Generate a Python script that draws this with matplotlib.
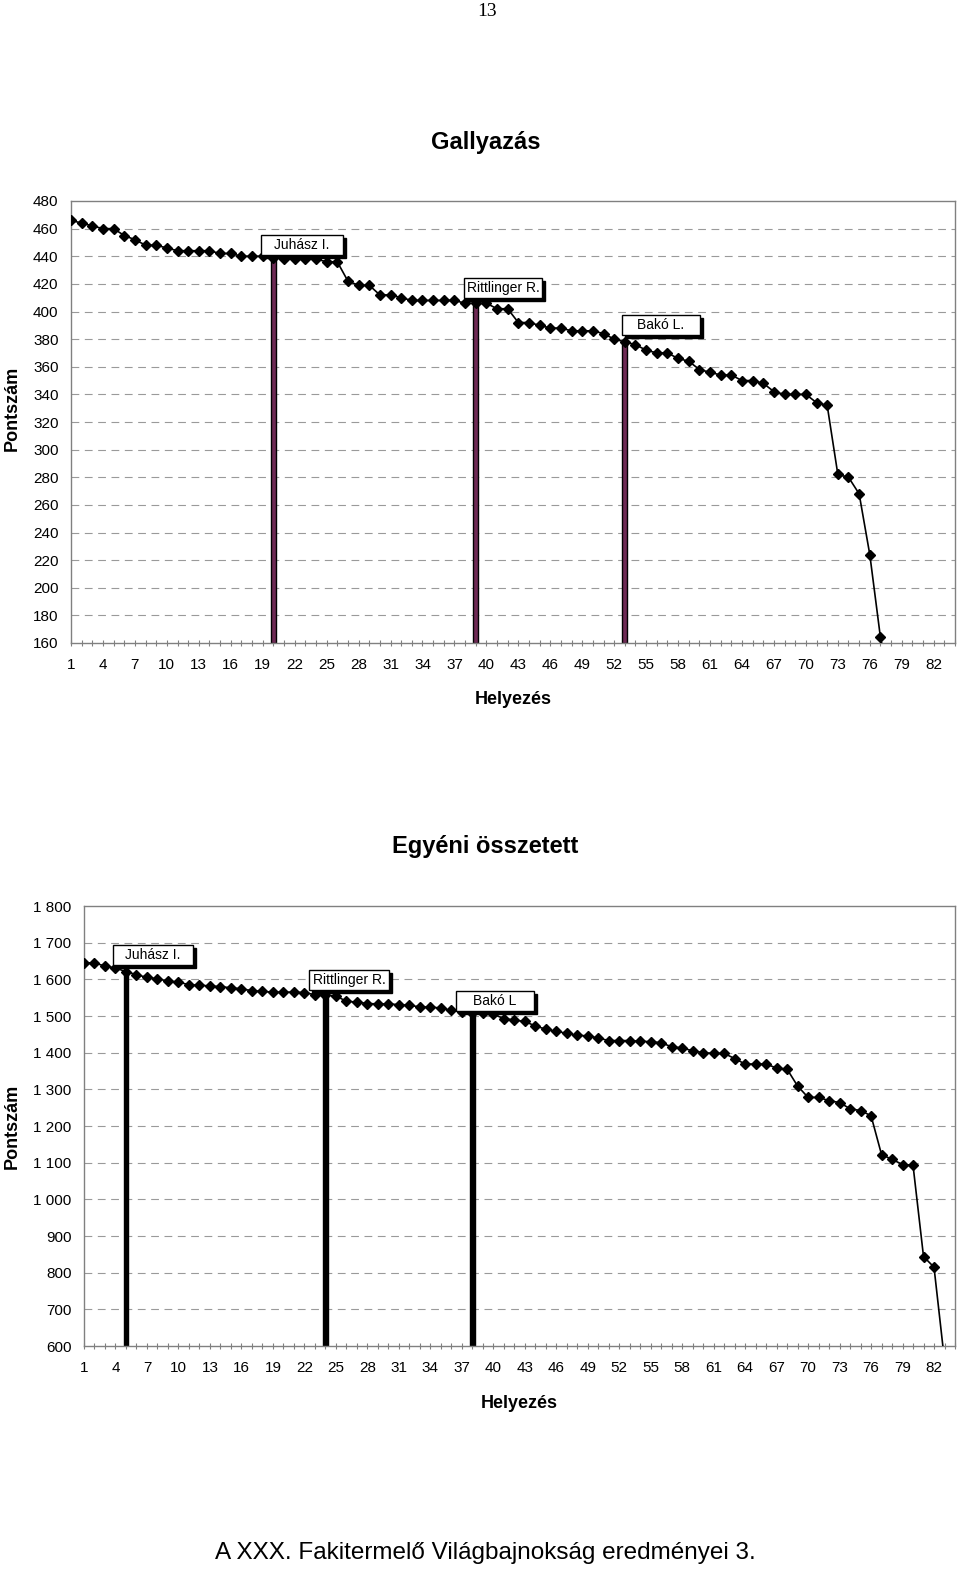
import matplotlib
matplotlib.use("Agg")
import matplotlib.pyplot as plt
from matplotlib.patches import Rectangle

plt.rcParams['font.family'] = ['Liberation Sans', 'DejaVu Sans']

# ---------------- data ----------------
n_categories = 84
categories = list(range(1, n_categories + 1))

gally_values = [466, 464, 462, 460, 460, 455, 452, 448, 448, 446,
                444, 444, 444, 444, 442, 442, 440, 440, 440, 439,
                438, 438, 438, 438, 436, 436, 422, 419, 419, 412,
                412, 410, 408, 408, 408, 408, 408, 406, 406, 406,
                402, 402, 392, 392, 390, 388, 388, 386, 386, 386,
                384, 380, 378, 376, 372, 370, 370, 366, 364, 358,
                356, 354, 354, 350, 350, 348, 342, 340, 340, 340,
                334, 332, 282, 280, 268, 224, 164, 130]
gally_highlight_pos = [20, 39, 53]
gally_highlight_names = ["Juhász I.", "Rittlinger R.", "Bakó L."]
gally_yticks = list(range(160, 481, 20))

ossz_values = [1645, 1645, 1636, 1631, 1621, 1613, 1605, 1602, 1595, 1593,
               1585, 1584, 1582, 1580, 1577, 1574, 1569, 1567, 1565, 1565,
               1565, 1564, 1558, 1557, 1555, 1540, 1538, 1534, 1533, 1533,
               1531, 1529, 1525, 1524, 1522, 1515, 1511, 1509, 1507, 1505,
               1493, 1489, 1485, 1473, 1464, 1458, 1453, 1447, 1446, 1440,
               1433, 1433, 1433, 1431, 1430, 1427, 1416, 1413, 1405, 1400,
               1398, 1398, 1384, 1369, 1369, 1369, 1358, 1355, 1309, 1278,
               1278, 1269, 1264, 1247, 1242, 1228, 1122, 1109, 1095, 1093,
               844, 815, 560]
ossz_highlight_pos = [5, 24, 38]
ossz_highlight_names = ["Juhász I.", "Rittlinger R.", "Bakó L"]
ossz_yticks = list(range(600, 1801, 100))

xtick_labels = [str(c) if (c - 1) % 3 == 0 else "" for c in categories]

# ---------------- figure ----------------
W, H = 960, 1569
fig = plt.figure(figsize=(W / 100, H / 100), dpi=100)
fig.patch.set_facecolor("white")


def px_rect(left, top, right, bottom):
    return [left / W, 1 - bottom / H, (right - left) / W, (bottom - top) / H]


def fx(x):
    return x / W


def fy(y):
    return 1 - y / H


def style_axes(ax, yticks, ylabels):
    ax.set_xlim(1, n_categories)
    ax.set_ylim(yticks[0], yticks[-1])
    for s in ax.spines.values():
        s.set_color("#808080")
        s.set_linewidth(1.0)
    ax.set_yticks(yticks)
    ax.set_yticklabels(ylabels, fontsize=11)
    ax.tick_params(axis="y", length=0, pad=9)
    ax.set_xticks(categories)
    ax.set_xticklabels(xtick_labels, fontsize=11)
    ax.tick_params(axis="x", direction="inout", length=5, width=0.8,
                   color="#808080", pad=8)
    for yv in yticks[1:-1]:
        ax.axhline(yv, color="#9a9a9a", lw=0.8, ls=(0, (7, 5)), zorder=0)


def add_box(text, cx, cy, w, h=20):
    sh = Rectangle((fx(cx - w / 2 + 3), fy(cy + h / 2 + 3)), w / W, h / H,
                   transform=fig.transFigure, facecolor="black",
                   edgecolor="black", zorder=5)
    fig.add_artist(sh)
    bx = Rectangle((fx(cx - w / 2), fy(cy + h / 2)), w / W, h / H,
                   transform=fig.transFigure, facecolor="white",
                   edgecolor="black", lw=1.0, zorder=6)
    fig.add_artist(bx)
    fig.text(fx(cx), fy(cy), text, ha="center", va="center",
             fontsize=10, zorder=7)


# ---- top chart: Gallyazás ----
ax1 = fig.add_axes(px_rect(71, 201, 955, 643))
style_axes(ax1, gally_yticks, [str(v) for v in gally_yticks])
bar_h1 = [gally_values[p - 1] - gally_yticks[0] for p in gally_highlight_pos]
ax1.bar(gally_highlight_pos, bar_h1, bottom=gally_yticks[0], width=0.5,
        color="#6E2A55", edgecolor="black", linewidth=1.0, zorder=2)
ax1.plot(categories[:len(gally_values)], gally_values, color="black", lw=1.2,
         marker="D", markersize=5, zorder=3)

fig.text(fx(486), fy(142), "Gallyazás", ha="center", va="center",
         fontsize=17, fontweight="bold")
fig.text(fx(12), fy(408), "Pontszám", ha="center", va="center",
         fontsize=13, fontweight="bold", rotation=90)
fig.text(fx(513), fy(700), "Helyezés", ha="center", va="center",
         fontsize=13, fontweight="bold")

add_box(gally_highlight_names[0], 302, 245, 82)
add_box(gally_highlight_names[1], 503, 288, 78)
add_box(gally_highlight_names[2], 661, 325, 78)

# ---- bottom chart: Egyéni összetett ----
ax2 = fig.add_axes(px_rect(84, 906, 955, 1346))
style_axes(ax2, ossz_yticks,
           [f"{v:,}".replace(",", " ") for v in ossz_yticks])
bar_h2 = [ossz_values[p - 1] - ossz_yticks[0] for p in ossz_highlight_pos]
ax2.bar(ossz_highlight_pos, bar_h2, bottom=ossz_yticks[0], width=0.45,
        color="black", edgecolor="black", linewidth=1.0, zorder=2)
ax2.plot(categories[:len(ossz_values)], ossz_values, color="black", lw=1.2,
         marker="D", markersize=5, zorder=3)

fig.text(fx(485), fy(847), "Egyéni összetett", ha="center", va="center",
         fontsize=17, fontweight="bold")
fig.text(fx(12), fy(1126), "Pontszám", ha="center", va="center",
         fontsize=13, fontweight="bold", rotation=90)
fig.text(fx(519), fy(1403), "Helyezés", ha="center", va="center",
         fontsize=13, fontweight="bold")

add_box(ossz_highlight_names[0], 153, 955, 80)
add_box(ossz_highlight_names[1], 349, 980, 80)
add_box(ossz_highlight_names[2], 495, 1001, 78)

# ---- page texts ----
fig.text(fx(487), fy(12), "13", ha="center", va="center", fontsize=14,
         family=["Liberation Serif", "DejaVu Serif"])
fig.text(fx(485), fy(1553), "A XXX. Fakitermelő Világbajnokság eredményei 3.",
         ha="center", va="center", fontsize=17.5)

fig.savefig("out.png", dpi=100, facecolor="white")
